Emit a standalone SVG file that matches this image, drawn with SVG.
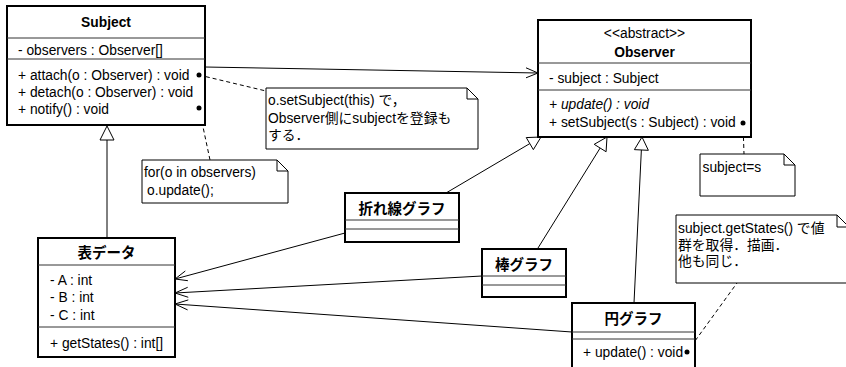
<svg xmlns="http://www.w3.org/2000/svg" width="846" height="367" viewBox="0 0 846 367">
<style>
.box{fill:#fff;stroke:#000;stroke-width:2}
.dv{stroke:#333;stroke-width:1}
.note{fill:#fff;stroke:#000;stroke-width:1}
.t{font-family:"Liberation Sans","Noto Sans CJK JP",sans-serif;font-size:13.8px;fill:#000}
.c{text-anchor:middle}
.b{font-weight:bold}
.i{font-style:italic}
.jt{font-family:"Noto Sans CJK JP",sans-serif;font-size:14.5px;font-weight:bold;text-anchor:middle;fill:#000}
.ln{fill:none;stroke:#000;stroke-width:1}
.tri{fill:#fff;stroke:#000;stroke-width:1}
.dash{fill:none;stroke:#000;stroke-width:1;stroke-dasharray:4,3}
.dot{fill:#000}
</style>
<rect width="846" height="367" fill="#fff"/>
<g id="connectors">
  <line class="ln" x1="205" y1="67" x2="538" y2="73"/>
  <polyline class="ln" points="526,67.8 538,73 526,77.8"/>
  <line class="ln" x1="107" y1="238" x2="107" y2="140"/>
  <polygon class="tri" points="107,126 100,140 114,140"/>
  <line class="ln" x1="446" y1="193" x2="529.8" y2="143.6"/>
  <polygon class="tri" points="541,137 533.35,149.63 526.25,137.57"/>
  <line class="ln" x1="538" y1="248" x2="600.14" y2="148.04"/>
  <polygon class="tri" points="607,137 606.09,151.74 594.19,144.34"/>
  <line class="ln" x1="634" y1="303" x2="641.37" y2="149.98"/>
  <polygon class="tri" points="642,137 648.36,150.32 634.38,149.64"/>
  <line class="ln" x1="345" y1="233" x2="175" y2="279"/>
  <polyline class="ln" points="187.9,280.7 175,279 185.3,271"/>
  <line class="ln" x1="482" y1="276" x2="175" y2="293"/>
  <polyline class="ln" points="188.26,297.27 175,293 187.7,287.29"/>
  <line class="ln" x1="572" y1="332" x2="175" y2="304"/>
  <polyline class="ln" points="187.6,309.9 175,304 188.3,299.9"/>
  <line class="dash" x1="199" y1="75" x2="266" y2="91"/>
  <line class="dash" x1="199" y1="108" x2="210" y2="160"/>
  <line class="dash" x1="743" y1="123" x2="744" y2="154"/>
  <line class="dash" x1="687" y1="352" x2="737" y2="283"/>
</g>
<g id="Subject">
  <rect class="box" x="7" y="6" width="198" height="119"/>
  <line class="dv" x1="7" y1="38" x2="205" y2="38"/>
  <line class="dv" x1="7" y1="59" x2="205" y2="59"/>
  <text class="t b c" x="106" y="27">Subject</text>
  <text class="t" x="18" y="55">- observers : Observer[]</text>
  <text class="t" x="18" y="80">+ attach(o : Observer) : void</text>
  <text class="t" x="18" y="97">+ detach(o : Observer) : void</text>
  <text class="t" x="18" y="114">+ notify() : void</text>
  <circle class="dot" cx="199" cy="75" r="2.5"/>
  <circle class="dot" cx="199" cy="108" r="2.5"/>
</g>
<g id="Observer">
  <rect class="box" x="538" y="20" width="213" height="117"/>
  <line class="dv" x1="538" y1="63" x2="751" y2="63"/>
  <line class="dv" x1="538" y1="90" x2="751" y2="90"/>
  <text class="t c" x="644.5" y="38">&lt;&lt;abstract&gt;&gt;</text>
  <text class="t b c" x="644.5" y="57">Observer</text>
  <text class="t" x="549" y="83">- subject : Subject</text>
  <text class="t i" x="549" y="109">+ update() : void</text>
  <text class="t" x="549" y="127">+ setSubject(s : Subject) : void</text>
  <circle class="dot" cx="743" cy="123" r="2.5"/>
</g>
<g id="TableData">
  <rect class="box" x="38" y="238" width="137" height="119"/>
  <line class="dv" x1="38" y1="265" x2="175" y2="265"/>
  <line class="dv" x1="38" y1="327" x2="175" y2="327"/>
  <text class="jt" x="106.5" y="258">表データ</text>
  <text class="t" x="50" y="285">- A : int</text>
  <text class="t" x="50" y="302">- B : int</text>
  <text class="t" x="50" y="320">- C : int</text>
  <text class="t" x="50" y="348">+ getStates() : int[]</text>
</g>
<g id="LineGraph">
  <rect class="box" x="345" y="193" width="114" height="49"/>
  <line class="dv" x1="345" y1="220" x2="459" y2="220"/>
  <line class="dv" x1="345" y1="229" x2="459" y2="229"/>
  <text class="jt" x="402" y="214">折れ線グラフ</text>
</g>
<g id="BarGraph">
  <rect class="box" x="482" y="249" width="84" height="48"/>
  <line class="dv" x1="482" y1="276" x2="566" y2="276"/>
  <line class="dv" x1="482" y1="285" x2="566" y2="285"/>
  <text class="jt" x="524" y="270">棒グラフ</text>
</g>
<g id="PieGraph">
  <rect class="box" x="572" y="303" width="123" height="70"/>
  <line class="dv" x1="572" y1="332" x2="695" y2="332"/>
  <line class="dv" x1="572" y1="339" x2="695" y2="339"/>
  <text class="jt" x="633.5" y="324">円グラフ</text>
  <text class="t" x="583" y="357">+ update() : void</text>
  <circle class="dot" cx="687" cy="352" r="2.5"/>
</g>
<g id="note-attach">
  <path class="note" d="M266,88 H467 L478,99 V149 H266 Z M467,88 V99 H478"/>
  <text class="t" x="268" y="105">o.setSubject(this) で，</text>
  <text class="t" x="268" y="123">Observer側にsubjectを登録も</text>
  <text class="t" x="268" y="140">する．</text>
</g>
<g id="note-notify">
  <path class="note" d="M142,160 H277 L288,171 V203 H142 Z M277,160 V171 H288"/>
  <text class="t" x="144" y="177">for(o in observers)</text>
  <text class="t" x="147" y="195">o.update();</text>
</g>
<g id="note-setSubject">
  <path class="note" d="M700,154 H784 L795,165 V196 H700 Z M784,154 V165 H795"/>
  <text class="t" x="702.5" y="172">subject=s</text>
</g>
<g id="note-update">
  <path class="note" d="M676,215 H837 L849,227 V283 H676 Z M837,215 V227 H849"/>
  <text class="t" x="678" y="233">subject.getStates() で値</text>
  <text class="t" x="678" y="250">群を取得．描画．</text>
  <text class="t" x="678" y="266">他も同じ．</text>
</g>
</svg>
